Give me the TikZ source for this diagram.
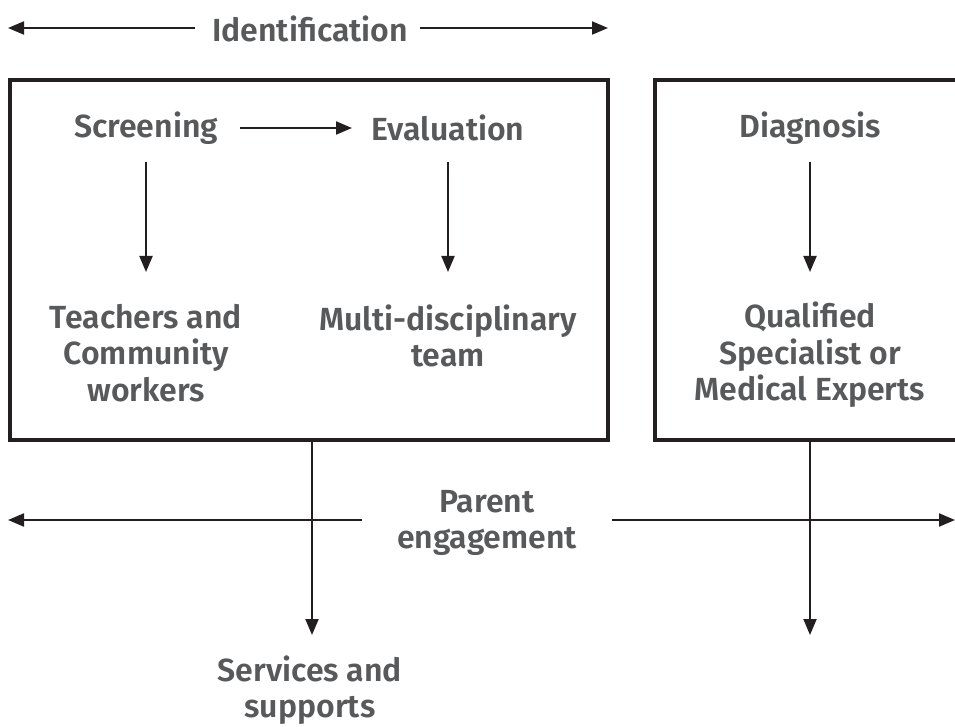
\documentclass[tikz,border=0pt]{standalone}
\usepackage{fontspec}
\setmainfont{Fira Sans}[UprightFont=* SemiBold]
\usetikzlibrary{arrows.meta}
\definecolor{txtgray}{HTML}{58595B}
\definecolor{linec}{HTML}{231F20}
\begin{document}
\begin{tikzpicture}[x=1pt,y=-1pt,
  lbl/.style={font=\fontsize{32}{36.5}\selectfont, text=txtgray, align=center, inner sep=0pt},
  conn/.style={draw=linec, line width=2pt, -{Triangle[length=16pt,width=13pt]}},
  frame/.style={draw=linec, line width=4pt}]
\useasboundingbox (0,0) rectangle (955,727);
\clip (0,0) rectangle (955,727);

% frames
\draw[frame] (10,80) rectangle (608,440);
\draw[frame] (655,80) rectangle (1000,440);

% top label
\node[lbl] (ident) at (310,29) {Identification};
\coordinate (il0) at (195,28);
\coordinate (il1) at (8,28);
\coordinate (ir0) at (420,28);
\coordinate (ir1) at (608,28);
\draw[conn] (il0) -- (il1);
\draw[conn] (ir0) -- (ir1);

% box 1
\node[lbl] (scr) at (146,128) {Screening};
\node[lbl] (eva) at (448,128) {Evaluation};
\node[lbl] (tcw) at (146,353) {Teachers and\\Community\\workers};
\node[lbl] (mdt) at (448,336) {Multi-disciplinary\\team};
\draw[conn, shorten <=94pt, shorten >=96pt] (scr.center) -- (eva.center);
\draw[conn, shorten <=34pt, shorten >=81pt] (scr.center) -- (tcw.center);
\draw[conn, shorten <=34pt, shorten >=64pt] (eva.center) -- (mdt.center);

% box 2
\node[lbl] (dia) at (810,128) {Diagnosis};
\node[lbl] (qsm) at (810,355) {Qualified\\Specialist or\\Medical Experts};
\draw[conn, shorten <=34pt, shorten >=83pt] (dia.center) -- (qsm.center);

% parent engagement
\node[lbl] (pe) at (487,523) {Parent\\engagement};
\coordinate (pls) at (362,520);
\coordinate (pl) at (8,520);
\coordinate (prs) at (612,520);
\coordinate (pr) at (955,520);
\draw[conn] (pls) -- (pl);
\draw[conn] (prs) -- (pr);

% outputs
\node[lbl] (svc) at (310,690) {Services and\\supports};
\coordinate (b1) at (312,440);
\coordinate (t1) at (312,635);
\coordinate (b2) at (810,440);
\coordinate (t2) at (810,635);
\draw[conn] (b1) -- (t1);
\draw[conn] (b2) -- (t2);
\end{tikzpicture}
\end{document}
